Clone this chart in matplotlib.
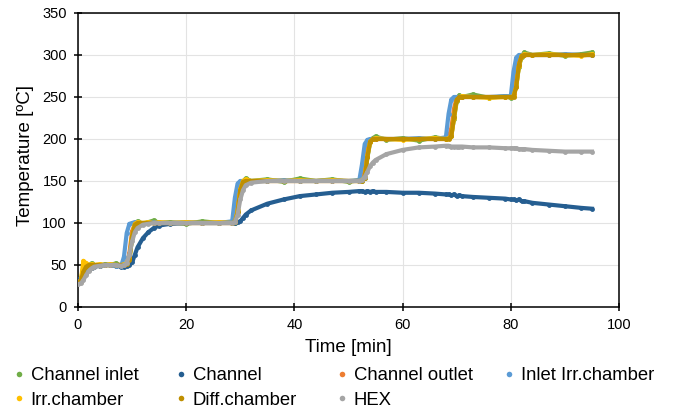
import matplotlib
matplotlib.use("Agg")
import matplotlib.pyplot as plt
from matplotlib.lines import Line2D

plt.rcParams['font.family'] = ['Liberation Sans', 'DejaVu Sans']

# time axis shared by all series [min]
t = [0, 0.5, 1, 1.5, 2, 2.5, 3, 4, 5, 6, 7, 8,
     8.5, 9, 9.5, 10, 10.5, 11, 12, 13, 14, 15, 17, 20, 23, 26,
     28.5, 29, 29.5, 30, 30.5, 31, 32, 35, 38, 41, 44, 47, 50,
     52, 52.5, 53, 53.5, 54, 54.5, 55, 57, 60, 63, 66,
     68, 68.5, 69, 69.5, 70, 70.5, 71, 73, 76, 79,
     80, 80.5, 81, 81.5, 82, 82.5, 84, 87, 90, 93, 95]

channel_inlet = [29, 31, 48, 51, 49, 52, 50, 49, 51, 50, 52, 49,
                 50, 53, 57, 82, 98, 102, 99, 101, 103, 100, 101, 99, 102, 100,
                 101, 100, 114, 139, 149, 153, 150, 152, 149, 153, 150, 152, 149,
                 151, 150, 154, 178, 196, 201, 203, 199, 201, 198, 202,
                 200, 201, 204, 224, 245, 252, 250, 253, 249, 251,
                 249, 252, 263, 286, 298, 303, 300, 302, 299, 301, 303]

channel = [33, 34, 36, 40, 44, 47, 48, 49, 50, 50, 49, 48,
           48, 49, 50, 53, 62, 71, 82, 89, 94, 97, 99, 100, 100, 100,
           100, 100, 101, 102, 106, 110, 115, 123, 128, 132, 134, 136, 137,
           138, 138, 137, 138, 137, 138, 137, 137, 136, 136, 135,
           134, 134, 133, 134, 132, 133, 132, 131, 130, 129,
           128, 128, 127, 128, 126, 126, 124, 122, 120, 118, 117]

channel_outlet = [30, 31, 40, 47, 49, 50, 50, 50, 50, 50, 50, 50,
                  50, 52, 64, 90, 99, 100, 100, 100, 100, 100, 100, 100, 100, 100,
                  100, 104, 124, 145, 150, 150, 150, 150, 150, 150, 150, 150, 150,
                  150, 151, 162, 188, 199, 200, 200, 200, 200, 200, 200,
                  200, 202, 212, 236, 249, 250, 250, 250, 250, 250,
                  250, 253, 274, 294, 300, 300, 300, 300, 300, 300, 300]

inlet_irr_chamber = [30, 31, 35, 41, 46, 48, 49, 50, 50, 50, 49, 49,
                     60, 88, 99, 100, 101, 100, 100, 100, 101, 100, 100, 101, 100, 100,
                     102, 130, 147, 150, 150, 151, 150, 150, 151, 150, 150, 151, 150,
                     151, 170, 194, 199, 200, 200, 201, 200, 200, 201, 200,
                     202, 230, 247, 250, 250, 250, 251, 250, 250, 251,
                     251, 280, 297, 300, 300, 301, 300, 300, 301, 300, 300]

irr_chamber = [28, 30, 55, 52, 50, 51, 50, 51, 50, 51, 50, 50,
               51, 52, 58, 85, 99, 101, 100, 101, 100, 101, 100, 101, 100, 101,
               100, 101, 115, 140, 150, 152, 150, 151, 150, 151, 150, 151, 150,
               150, 151, 155, 180, 197, 200, 201, 200, 199, 200, 201,
               200, 201, 203, 225, 246, 250, 251, 250, 249, 250,
               250, 251, 262, 287, 299, 301, 300, 301, 300, 299, 301]

diff_chamber = [30, 31, 42, 48, 50, 50, 50, 50, 50, 50, 50, 50,
                50, 51, 56, 84, 98, 100, 100, 100, 100, 100, 100, 100, 100, 100,
                100, 101, 113, 139, 149, 150, 150, 150, 150, 150, 150, 150, 150,
                150, 150, 154, 179, 197, 200, 200, 200, 200, 200, 200,
                200, 200, 203, 226, 247, 250, 250, 250, 250, 250,
                250, 250, 262, 288, 299, 300, 300, 300, 300, 300, 300]

hex_temp = [27, 28, 32, 38, 43, 46, 48, 49, 50, 50, 50, 49,
            50, 52, 62, 78, 89, 94, 98, 99, 100, 100, 100, 100, 100, 100,
            100, 101, 110, 128, 139, 145, 148, 150, 150, 150, 150, 150, 150,
            150, 151, 155, 161, 168, 172, 175, 182, 187, 190, 191,
            192, 192, 191, 191, 191, 191, 191, 190, 190, 189,
            189, 189, 189, 188, 188, 188, 187, 186, 185, 185, 185]

labels = ["Channel inlet", "Channel", "Channel outlet", "Inlet Irr.chamber",
          "Irr.chamber", "Diff.chamber", "HEX"]
colors = ["#70AD47", "#255E91", "#ED7D31", "#5B9BD5", "#FFC000", "#BF8F00", "#A5A5A5"]
series = [channel_inlet, channel, channel_outlet, inlet_irr_chamber,
          irr_chamber, diff_chamber, hex_temp]

fig = plt.figure(figsize=(6.75, 4.09), dpi=100)
ax = fig.add_axes([78 / 675, 1 - 307 / 409, 541 / 675, 294 / 409])

for vals, c in zip(series, colors):
    ax.plot(t, vals, color=c, lw=3, marker='o', ms=3.5, mew=0, zorder=3)

ax.set_xlim(0, 100)
ax.set_ylim(0, 350)
ax.set_xticks(range(0, 101, 20))
ax.set_yticks(range(0, 351, 50))
ax.grid(True, color="#E3E3E3", lw=0.8, zorder=0)
ax.set_axisbelow(True)
for s in ax.spines.values():
    s.set_linewidth(1.1)
    s.set_color("black")
ax.tick_params(direction='inout', length=6, width=1.1, labelsize=10.5, pad=5)

ax.set_xlabel("Time [min]", fontsize=13.5)
ax.set_ylabel("Temperature [ºC]", fontsize=13.5)
ax.xaxis.set_label_coords(0.5, -0.11)
ax.yaxis.set_label_coords(-0.082, 0.517)

# legend: four columns placed like the original
columns = [[0, 4], [1, 5], [2, 6], [3]]
col_x = [13, 175, 336, 503]
for idxs, x in zip(columns, col_x):
    handles = [Line2D([], [], ls='none', marker='o', ms=4, mew=0, color=colors[i]) for i in idxs]
    leg = fig.legend(handles, [labels[i] for i in idxs], loc='upper left',
                     bbox_to_anchor=(x / 675, 1 - 367 / 409), frameon=False,
                     fontsize=13.3, handlelength=0.6, handletextpad=0.35,
                     borderpad=0, borderaxespad=0, labelspacing=0.42)

fig.savefig("out.png", dpi=100)
